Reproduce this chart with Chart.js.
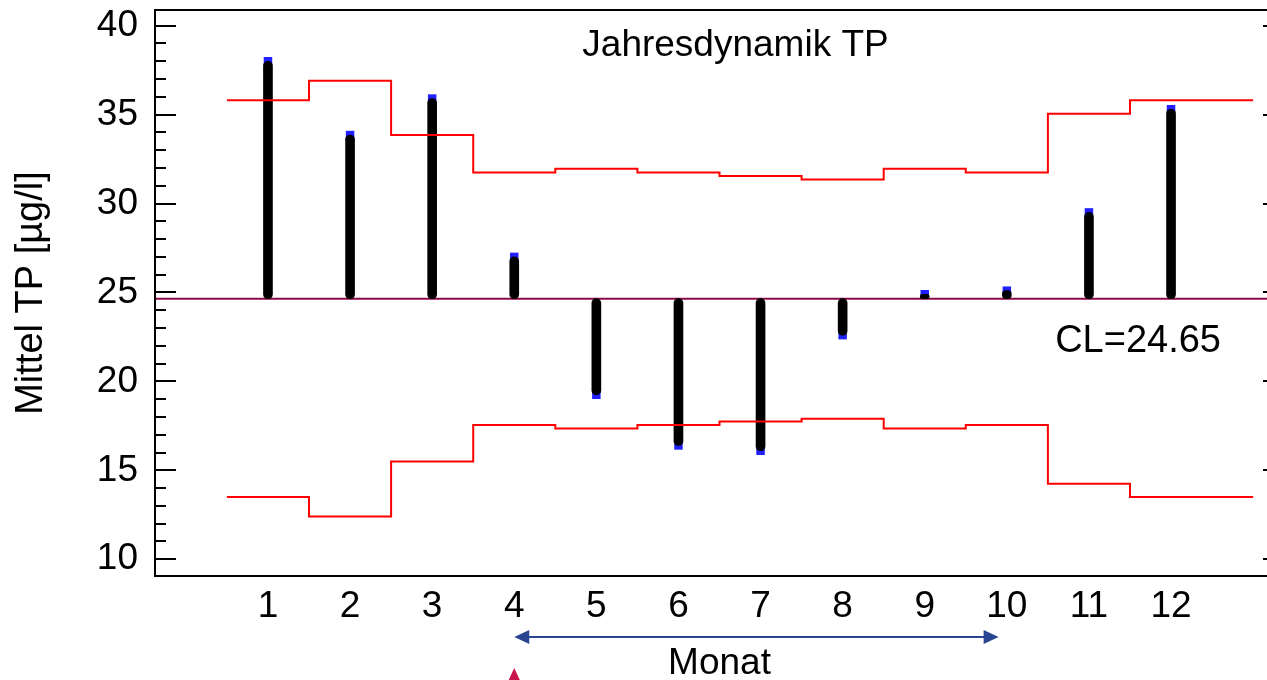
<!DOCTYPE html>
<html>
<head>
<meta charset="utf-8">
<script src="https://cdn.jsdelivr.net/npm/chart.js@4.4.1/dist/chart.umd.min.js"></script>
<style>
  html, body { margin: 0; padding: 0; background: #fff; overflow: hidden; }
  canvas { display: block; }
</style>
</head>
<body>
<canvas id="chart" width="1300" height="680"></canvas>
<script>
// values
const months = [1, 2, 3, 4, 5, 6, 7, 8, 9, 10, 11, 12]
const monthlyMean = [38.0, 33.85, 35.9, 27.0, 19.25, 16.4, 16.1, 22.6, 24.9, 25.1, 29.5, 35.3]
const upperLimit = [35.8, 36.9, 33.85, 31.75, 31.95, 31.75, 31.55, 31.35, 31.95, 31.75, 35.05, 35.8]
const lowerLimit = [13.5, 12.4, 15.5, 17.55, 17.35, 17.55, 17.75, 17.9, 17.35, 17.55, 14.25, 13.5]
const centerLine = 24.65
const yTicks = [10, 15, 20, 25, 30, 35, 40]
const minorStep = 1
const xRange = [-0.376, 13.376]
const yRange = [9.06, 40.88]
const arrowSpan = [4, 9.9] // blue double arrow under the month labels
const markerAt = 4 // little red triangle at the bottom edge

const FONT = "'Liberation Sans', Arial, sans-serif"

// stepped limit lines: each month spans m-0.5 .. m+0.5, last one runs one unit on
const stepPoints = vals => months
  .map((m, i) => ({ x: m - 0.5, y: vals[i] }))
  .concat([{ x: months[months.length - 1] + 1, y: vals[vals.length - 1] }])

// frame, inward ticks and the loose texts/arrows
const overlay = {
  id: 'overlay',
  afterDraw(chart) {
    const { ctx, chartArea: a, scales: { x, y } } = chart
    ctx.save()
    ctx.strokeStyle = '#000'
    ctx.lineWidth = 2
    ctx.strokeRect(a.left, a.top, a.right - a.left, a.bottom - a.top)

    for (let v = yTicks[0]; v <= yTicks[yTicks.length - 1]; v += minorStep) {
      const py = Math.round(y.getPixelForValue(v))
      const len = yTicks.includes(v) ? 21 : 11
      ctx.beginPath()
      ctx.moveTo(a.left, py)
      ctx.lineTo(a.left + len, py)
      ctx.moveTo(a.right, py)
      ctx.lineTo(a.right - len, py)
      ctx.stroke()
    }

    ctx.fillStyle = '#000'
    ctx.font = `37px ${FONT}`
    ctx.textBaseline = 'alphabetic'
    ctx.textAlign = 'center'
    ctx.fillText('Jahresdynamik TP', (a.left + a.right) / 2 + 16, a.top + 46)

    ctx.font = `38px ${FONT}`
    ctx.textAlign = 'right'
    ctx.fillText('CL=' + centerLine.toFixed(2), a.right - 63, y.getPixelForValue(centerLine) + 53)

    // double arrow
    const ay = a.bottom + 61
    const x0 = x.getPixelForValue(arrowSpan[0])
    const x1 = x.getPixelForValue(arrowSpan[1])
    ctx.strokeStyle = '#2a4590'
    ctx.fillStyle = '#2a4590'
    ctx.lineWidth = 2
    ctx.beginPath()
    ctx.moveTo(x0 + 10, ay)
    ctx.lineTo(x1 - 10, ay)
    ctx.stroke()
    ctx.beginPath()
    ctx.moveTo(x0, ay)
    ctx.lineTo(x0 + 15, ay - 7)
    ctx.lineTo(x0 + 15, ay + 7)
    ctx.closePath()
    ctx.moveTo(x1, ay)
    ctx.lineTo(x1 - 15, ay - 7)
    ctx.lineTo(x1 - 15, ay + 7)
    ctx.closePath()
    ctx.fill()

    // red triangle
    const tx = x.getPixelForValue(markerAt)
    ctx.fillStyle = '#c8124c'
    ctx.beginPath()
    ctx.moveTo(tx, a.bottom + 92)
    ctx.lineTo(tx + 6.5, a.bottom + 106)
    ctx.lineTo(tx - 6.5, a.bottom + 106)
    ctx.closePath()
    ctx.fill()
    ctx.restore()
  }
}

const ctx = document.getElementById('chart').getContext('2d')

new Chart(ctx, {
  type: 'bar',
  data: {
    datasets: [
      {
        type: 'line',
        label: 'UCL',
        data: stepPoints(upperLimit),
        stepped: true,
        borderColor: '#ff0000',
        borderWidth: 2,
        pointRadius: 0,
        fill: false,
        order: 0,
      },
      {
        type: 'line',
        label: 'LCL',
        data: stepPoints(lowerLimit),
        stepped: true,
        borderColor: '#ff0000',
        borderWidth: 2,
        pointRadius: 0,
        fill: false,
        order: 0,
      },
      {
        type: 'bar',
        label: 'Abweichung',
        data: months.map((m, i) => ({ x: m, y: [centerLine, monthlyMean[i]] })),
        backgroundColor: '#000',
        borderWidth: 0,
        borderRadius: 4.5,
        borderSkipped: false,
        barThickness: 9,
        order: 1,
      },
      {
        type: 'line',
        label: 'CL',
        data: [{ x: xRange[0], y: centerLine }, { x: xRange[1], y: centerLine }],
        borderColor: '#8c0a4a',
        borderWidth: 2,
        pointRadius: 0,
        fill: false,
        order: 2,
      },
      {
        type: 'scatter',
        label: 'Mittel',
        data: months.map((m, i) => ({ x: m, y: monthlyMean[i] })),
        pointStyle: 'rect',
        pointRadius: 6,
        backgroundColor: '#1f1fff',
        borderWidth: 0,
        order: 3,
      },
    ],
  },
  options: {
    responsive: false,
    animation: false,
    devicePixelRatio: 1,
    layout: { padding: { top: 10, right: 16, left: 0, bottom: 0 } },
    plugins: {
      legend: { display: false },
      tooltip: { enabled: false },
    },
    scales: {
      x: {
        type: 'linear',
        min: xRange[0],
        max: xRange[1],
        offset: false,
        afterBuildTicks: s => { s.ticks = months.map(v => ({ value: v })) },
        afterFit: s => { s.height = 104; s.paddingLeft = 0; s.paddingRight = 0 },
        grid: { display: false, drawTicks: false },
        border: { display: false },
        ticks: {
          color: '#000',
          font: { family: FONT, size: 37 },
          padding: 9,
          autoSkip: false,
          maxRotation: 0,
        },
        title: {
          display: true,
          text: 'Monat',
          color: '#000',
          font: { family: FONT, size: 37, lineHeight: 0.86 },
          padding: 0,
        },
      },
      y: {
        type: 'linear',
        min: yRange[0],
        max: yRange[1],
        afterBuildTicks: s => { s.ticks = yTicks.map(v => ({ value: v })) },
        afterFit: s => { s.width = 155; s.paddingTop = 0; s.paddingBottom = 0 },
        grid: { display: false, drawTicks: false },
        border: { display: false },
        ticks: {
          color: '#000',
          font: { family: FONT, size: 37 },
          padding: 17,
        },
        title: {
          display: true,
          text: 'Mittel TP [µg/l]',
          color: '#000',
          font: { family: FONT, size: 38 },
          padding: { top: 9, bottom: 0 },
        },
      },
    },
  },
  plugins: [overlay],
})
</script>
</body>
</html>
